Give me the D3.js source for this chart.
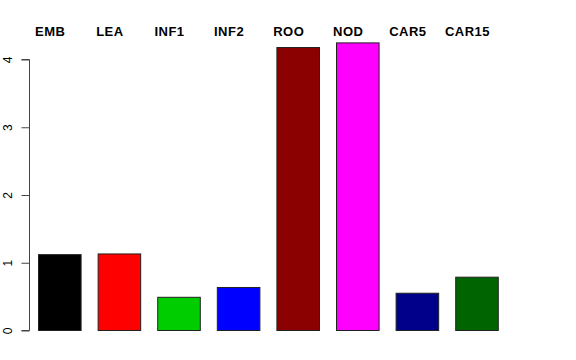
<!DOCTYPE html>
<html>
<head>
<meta charset="utf-8">
<script src="https://cdn.jsdelivr.net/npm/d3@7"></script>
<style>
html,body{margin:0;padding:0;background:#fff;}
svg{display:block;}
</style>
</head>
<body>
<svg id="chart" width="576" height="360"></svg>
<script>
const categories = ["EMB","LEA","INF1","INF2","ROO","NOD","CAR5","CAR15"];
const values = [1.12, 1.13, 0.49, 0.635, 4.177, 4.245, 0.55, 0.787];
const colors = ["#000000","#FF0000","#00CD00","#0000FF","#8B0000","#FF00FF","#00008B","#006400"];
const yTicks = [0,1,2,3,4];

const svg = d3.select("#chart");
const x = d3.scaleBand().domain(categories).range([29.5, 506.3]).paddingInner(0.2857).paddingOuter(0.143);
const y = d3.scaleLinear().domain([0,4]).range([330.5, 59.5]);

svg.selectAll("rect.bar").data(categories).enter().append("rect")
  .attr("class","bar")
  .attr("x", d => x(d) + 0.5)
  .attr("y", (d,i) => y(values[i]))
  .attr("width", x.bandwidth())
  .attr("height", (d,i) => y(0) - y(values[i]))
  .attr("fill", (d,i) => colors[i])
  .attr("stroke", "#222")
  .attr("stroke-width", 1);

svg.selectAll("text.lab").data(categories).enter().append("text")
  .attr("class","lab")
  .attr("x", d => x(d) + x.bandwidth()/2 - 9)
  .attr("y", 35.5)
  .attr("text-anchor","middle")
  .attr("font-family","'Liberation Sans', Arial, sans-serif")
  .attr("font-weight","bold")
  .attr("font-size", 13)
  .attr("letter-spacing", 0.5)
  .text(d => d);

const axis = d3.axisLeft(y).tickValues(yTicks).tickSize(8).tickPadding(0).tickFormat(d3.format("d"));
const g = svg.append("g").attr("transform","translate(29.5,0)").call(axis);
g.select(".domain").attr("d", `M-8,${y(0)}H0V${y(4)}H-8`).attr("stroke","#444");
g.selectAll(".tick line").attr("stroke","#444");
g.selectAll(".tick text").remove();
g.selectAll(".tick").append("text")
  .attr("transform","translate(-17.5,0) rotate(-90)")
  .attr("text-anchor","middle")
  .attr("fill","#000")
  .attr("font-family","'Liberation Sans', Arial, sans-serif")
  .attr("font-size", 12)
  .text(d => d);
svg.selectAll(".tick line, .domain").attr("stroke-width",1);
</script>
</body>
</html>
